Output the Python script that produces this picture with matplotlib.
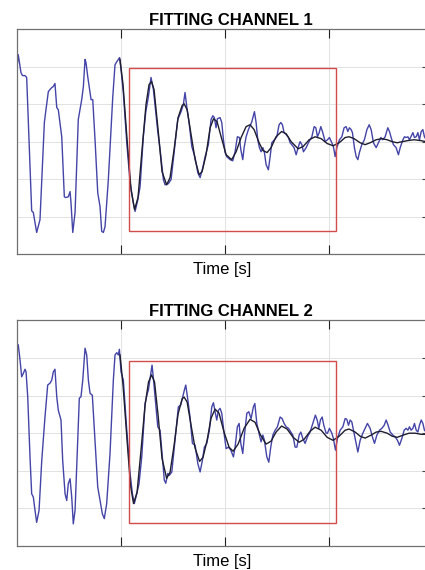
import matplotlib
matplotlib.use('Agg')
import matplotlib.pyplot as plt
from matplotlib.patches import Rectangle

plt.rcParams['font.family'] = ['Liberation Sans', 'DejaVu Sans']

# channel 1: measured signal
t1 = [0.000, 0.012, 0.038, 0.053, 0.077, 0.093, 0.141, 0.157, 0.189, 0.221,
      0.263, 0.276, 0.301, 0.317, 0.334, 0.349, 0.365, 0.382, 0.397, 0.430,
      0.455, 0.468, 0.493, 0.510, 0.519, 0.536, 0.558, 0.589, 0.622, 0.638,
      0.654, 0.663, 0.680, 0.712, 0.728, 0.750, 0.776, 0.798, 0.814, 0.830,
      0.846, 0.878, 0.920, 0.942, 0.959, 0.974, 0.986, 1.000, 1.022, 1.055,
      1.087, 1.118, 1.135, 1.161, 1.183, 1.214, 1.238, 1.263, 1.288, 1.311,
      1.334, 1.353, 1.375, 1.407, 1.423, 1.455, 1.481, 1.513, 1.545, 1.577,
      1.599, 1.615, 1.632, 1.654, 1.680, 1.712, 1.738, 1.760, 1.786, 1.808,
      1.839, 1.865, 1.882, 1.897, 1.913, 1.926, 1.952, 1.968, 1.984, 2.000,
      2.016, 2.048, 2.074, 2.096, 2.118, 2.138, 2.151, 2.170, 2.183, 2.202,
      2.224, 2.257, 2.282, 2.298, 2.314, 2.330, 2.346, 2.363, 2.378, 2.394,
      2.416, 2.433, 2.449, 2.474, 2.497, 2.519, 2.536, 2.551, 2.567, 2.587,
      2.609, 2.625, 2.641, 2.663, 2.683, 2.705, 2.721, 2.738, 2.753, 2.779,
      2.801, 2.834, 2.856, 2.872, 2.888, 2.904, 2.920, 2.939, 2.962, 2.984,
      3.003, 3.026, 3.041, 3.058, 3.074, 3.099, 3.122, 3.144, 3.163, 3.180,
      3.195, 3.212, 3.224, 3.243, 3.260, 3.276, 3.291, 3.314, 3.339, 3.363,
      3.385, 3.404, 3.426, 3.452, 3.474, 3.497, 3.516, 3.538, 3.564, 3.580,
      3.596, 3.618, 3.644, 3.666, 3.683, 3.709, 3.724, 3.740, 3.757, 3.772,
      3.786, 3.805, 3.820, 3.837, 3.853, 3.868, 3.885, 3.901, 3.916, 3.933,
      3.971, 4.000]
sig1 = [1.97, 2.32, 1.84, 1.76, 1.76, 1.71, -1.84, -1.89, -2.42, -2.08,
        0.51, 0.80, 1.33, 1.39, 1.44, 1.47, 1.55, 0.91, 0.85, 0.13,
        -1.47, -1.49, -1.47, -1.33, -1.63, -2.42, -1.89, 0.59, 1.12, 1.47,
        2.19, 2.11, 1.73, 1.12, 1.12, 0.05, -1.36, -1.73, -2.39, -2.42,
        -2.27, -1.01, 1.17, 2.05, 2.13, 2.19, 2.24, 1.92, 1.31, -0.03,
        -1.09, -1.63, -1.86, -1.55, -1.20, 0.13, 0.80, 1.20, 1.71, 1.39,
        0.77, 0.27, -0.21, -1.01, -1.15, -1.12, -1.01, -0.21, 0.59, 0.80,
        0.99, 1.31, 0.93, 0.51, -0.13, -0.43, -0.83, -0.96, -0.69, -0.40,
        -0.08, 0.59, 0.69, 0.64, 0.37, 0.61, 0.64, 0.51, 0.05, -0.29,
        -0.40, -0.48, -0.51, -0.27, 0.13, 0.11, -0.21, -0.48, -0.16, 0.13,
        0.32, 0.53, 0.80, 0.51, 0.05, -0.16, -0.27, -0.16, -0.29, -0.61,
        -0.75, -0.40, -0.03, 0.05, 0.13, 0.45, 0.51, 0.45, 0.24, 0.19,
        0.11, -0.03, -0.08, -0.16, -0.35, -0.13, 0.00, -0.08, -0.27, -0.16,
        -0.03, 0.13, 0.40, 0.37, 0.13, 0.24, 0.40, 0.24, 0.00, 0.05,
        0.11, -0.03, -0.13, -0.40, -0.16, 0.05, 0.13, 0.37, 0.40, 0.27,
        0.37, 0.32, 0.24, -0.16, -0.40, -0.48, -0.29, -0.08, 0.05, 0.32,
        0.45, 0.32, -0.03, -0.16, -0.03, 0.11, 0.05, 0.13, 0.37, 0.27,
        0.11, -0.08, -0.16, -0.35, -0.16, 0.05, 0.13, 0.11, 0.13, 0.05,
        0.13, 0.24, 0.11, 0.13, 0.24, 0.05, 0.27, 0.32, 0.13, 0.05,
        0.11, 0.05]

# channel 1: fitted curve
fit_t1 = [0.990, 1.019, 1.058, 1.096, 1.130, 1.163, 1.202, 1.240, 1.269, 1.293,
          1.317, 1.356, 1.394, 1.438, 1.471, 1.510, 1.548, 1.587, 1.606, 1.635,
          1.673, 1.712, 1.750, 1.779, 1.817, 1.856, 1.889, 1.923, 1.962, 2.010,
          2.063, 2.106, 2.154, 2.202, 2.240, 2.279, 2.327, 2.365, 2.404, 2.442,
          2.490, 2.543, 2.587, 2.635, 2.702, 2.750, 2.808, 2.865, 2.923, 2.981,
          3.038, 3.096, 3.154, 3.192, 3.240, 3.298, 3.346, 3.394, 3.452, 3.505,
          3.558, 3.606, 3.654, 3.702, 3.760, 3.817, 3.875, 3.933, 4.000]
fit1 = [2.19, 1.52, 0.05, -1.28, -1.81, -1.49, -0.21, 0.99, 1.52, 1.60,
        1.39, 0.32, -0.80, -1.15, -0.96, -0.21, 0.64, 0.96, 1.01, 0.85,
        0.19, -0.48, -0.88, -0.80, -0.35, 0.37, 0.61, 0.53, 0.13, -0.35,
        -0.48, -0.27, 0.11, 0.40, 0.45, 0.32, -0.03, -0.24, -0.29, -0.16,
        0.13, 0.27, 0.21, 0.00, -0.19, -0.13, 0.05, 0.13, 0.08, -0.05,
        -0.11, -0.03, 0.11, 0.13, 0.08, -0.03, -0.08, -0.03, 0.05, 0.08,
        0.05, 0.00, -0.03, 0.00, 0.03, 0.05, 0.03, 0.00, 0.00]

# channel 2: measured signal
t2 = [0.000, 0.012, 0.029, 0.045, 0.061, 0.077, 0.087, 0.103, 0.125, 0.141,
      0.157, 0.173, 0.189, 0.212, 0.238, 0.269, 0.295, 0.317, 0.334, 0.349,
      0.365, 0.382, 0.397, 0.423, 0.439, 0.462, 0.478, 0.493, 0.510, 0.526,
      0.541, 0.558, 0.584, 0.599, 0.615, 0.632, 0.654, 0.670, 0.686, 0.702,
      0.724, 0.750, 0.776, 0.798, 0.820, 0.839, 0.862, 0.894, 0.926, 0.942,
      0.959, 0.974, 0.984, 1.000, 1.022, 1.055, 1.087, 1.109, 1.128, 1.151,
      1.173, 1.199, 1.231, 1.253, 1.263, 1.282, 1.298, 1.311, 1.327, 1.353,
      1.375, 1.391, 1.416, 1.430, 1.449, 1.464, 1.488, 1.519, 1.551, 1.574,
      1.593, 1.609, 1.622, 1.638, 1.663, 1.686, 1.712, 1.738, 1.760, 1.782,
      1.801, 1.824, 1.849, 1.872, 1.888, 1.904, 1.920, 1.936, 1.952, 1.968,
      1.990, 2.010, 2.032, 2.055, 2.080, 2.096, 2.118, 2.135, 2.151, 2.170,
      2.186, 2.209, 2.228, 2.250, 2.272, 2.286, 2.305, 2.330, 2.346, 2.363,
      2.378, 2.401, 2.420, 2.439, 2.459, 2.481, 2.503, 2.529, 2.548, 2.567,
      2.587, 2.609, 2.632, 2.651, 2.673, 2.690, 2.712, 2.728, 2.747, 2.769,
      2.791, 2.817, 2.843, 2.868, 2.885, 2.901, 2.916, 2.933, 2.949, 2.971,
      2.984, 3.003, 3.026, 3.041, 3.061, 3.080, 3.106, 3.132, 3.154, 3.170,
      3.186, 3.202, 3.218, 3.234, 3.257, 3.276, 3.298, 3.324, 3.346, 3.368,
      3.394, 3.416, 3.436, 3.459, 3.484, 3.507, 3.529, 3.548, 3.567, 3.587,
      3.613, 3.635, 3.657, 3.676, 3.699, 3.721, 3.740, 3.757, 3.772, 3.788,
      3.805, 3.820, 3.837, 3.853, 3.868, 3.885, 3.901, 3.916, 3.933, 3.971,
      4.000]
sig2 = [2.37, 2.35, 1.95, 1.50, 1.59, 1.70, 1.63, 0.97, -0.63, -1.61,
        -1.70, -2.05, -2.37, -2.05, -0.72, 0.43, 1.28, 1.33, 1.41, 1.63,
        1.70, 0.97, 0.61, 0.35, -0.72, -1.61, -1.79, -1.34, -1.21, -1.70,
        -2.41, -2.05, -0.19, 0.93, 0.97, 1.41, 2.26, 2.08, 1.41, 1.06,
        1.01, -0.19, -1.43, -1.79, -2.14, -2.27, -1.87, -0.54, 1.41, 2.08,
        2.14, 2.08, 2.23, 1.63, 1.41, 0.08, -1.07, -1.61, -1.87, -1.61,
        -1.34, -0.63, 0.79, 1.06, 1.15, 1.50, 1.81, 1.46, 0.97, 0.17,
        0.08, -0.45, -1.25, -1.33, -1.07, -1.12, -1.03, -0.19, 0.70, 0.75,
        0.97, 1.15, 1.28, 0.97, 0.43, -0.27, -0.32, -0.81, -1.03, -0.72,
        -0.37, -0.27, 0.08, 0.70, 0.81, 0.57, 0.35, 0.61, 0.66, 0.53,
        0.00, -0.41, -0.37, -0.45, -0.63, -0.37, 0.17, 0.26, -0.27, -0.54,
        -0.05, 0.53, 0.57, 0.39, 0.70, 0.79, 0.26, -0.05, -0.23, -0.05,
        -0.19, -0.63, -0.77, -0.37, -0.05, 0.08, 0.17, 0.43, 0.39, 0.26,
        0.17, 0.13, 0.03, -0.05, -0.37, -0.37, -0.05, 0.03, -0.14, -0.27,
        -0.10, 0.03, 0.26, 0.48, 0.35, 0.13, 0.35, 0.43, 0.21, 0.00,
        0.00, 0.13, 0.00, -0.14, -0.45, -0.14, 0.08, 0.17, 0.39, 0.37,
        0.21, 0.35, 0.30, 0.08, -0.23, -0.50, -0.19, 0.00, 0.13, 0.26,
        0.13, -0.10, -0.27, -0.05, 0.08, 0.13, 0.21, 0.35, 0.21, 0.03,
        -0.05, -0.10, -0.19, -0.32, -0.14, 0.08, 0.13, 0.08, 0.17, 0.08,
        0.13, 0.26, 0.08, 0.03, 0.21, 0.35, 0.26, 0.08, 0.03, 0.13,
        0.03]

# channel 2: fitted curve
fit_t2 = [0.990, 1.019, 1.058, 1.091, 1.120, 1.154, 1.192, 1.231, 1.264, 1.293,
          1.322, 1.356, 1.394, 1.438, 1.471, 1.510, 1.548, 1.587, 1.606, 1.635,
          1.673, 1.712, 1.755, 1.788, 1.827, 1.865, 1.904, 1.942, 1.990, 2.038,
          2.077, 2.125, 2.183, 2.240, 2.288, 2.337, 2.394, 2.442, 2.490, 2.543,
          2.596, 2.654, 2.712, 2.760, 2.817, 2.865, 2.923, 2.981, 3.038, 3.096,
          3.154, 3.192, 3.250, 3.298, 3.346, 3.404, 3.452, 3.500, 3.558, 3.606,
          3.654, 3.712, 3.769, 3.827, 3.885, 3.942, 4.000]
fit2 = [2.08, 1.28, -0.19, -1.39, -1.87, -1.57, -0.45, 0.75, 1.36, 1.55,
        1.36, 0.48, -0.67, -1.20, -1.04, -0.32, 0.51, 0.91, 0.96, 0.83,
        0.21, -0.40, -0.75, -0.64, -0.19, 0.40, 0.64, 0.53, 0.03, -0.37,
        -0.48, -0.29, 0.13, 0.37, 0.29, -0.03, -0.29, -0.21, 0.03, 0.19,
        0.11, -0.11, -0.24, -0.16, 0.05, 0.16, 0.08, -0.11, -0.19, -0.08,
        0.08, 0.11, 0.03, -0.08, -0.13, -0.05, 0.03, 0.05, 0.00, -0.08,
        -0.11, -0.05, 0.00, 0.00, -0.03, -0.03, -0.03]

# fitting window (time range, amplitude range)
win_t = [1.08, 3.07]
win_y1 = [-2.37, 1.95]
win_y2 = [-2.39, 1.93]

titles = ['FITTING CHANNEL 1', 'FITTING CHANNEL 2']
panels = [(t1, sig1, fit_t1, fit1, win_y1), (t2, sig2, fit_t2, fit2, win_y2)]
# axes rectangles in figure fractions
boxes = [[0.040, 0.554, 0.967, 0.395], [0.040, 0.042, 0.967, 0.396]]

fig = plt.figure(figsize=(4.25, 5.7), dpi=100)

for i in range(2):
    t, sig, ft, fy, wy = panels[i]
    ax = fig.add_axes(boxes[i])

    ax.plot(t, sig, color='#4444a8', linewidth=1.0, zorder=2)
    ax.plot(ft, fy, color='#1e1e30', linewidth=1.0, zorder=3)
    ax.add_patch(Rectangle((win_t[0], wy[0]), win_t[1] - win_t[0], wy[1] - wy[0],
                           fill=False, edgecolor='#d24c4c', linewidth=1.0, zorder=4))

    ax.set_xlim(0, 3.95)
    ax.set_ylim(-3, 3)
    ax.set_xticks([1, 2, 3])
    ax.set_yticks([-2, -1, 0, 1, 2])
    ax.set_xticklabels([])
    ax.set_yticklabels([])
    ax.grid(True, color='#e2e2e2', linewidth=0.7, zorder=0)
    ax.set_axisbelow(True)
    ax.tick_params(axis='x', direction='in', length=6.5, width=0.8, color='#222222',
                   top=True, bottom=True)
    ax.tick_params(axis='y', direction='in', length=4, width=0.8, color='#444444',
                   left=False, right=True)
    for s in ax.spines.values():
        s.set_color('#707070')
        s.set_linewidth(0.9)

    ax.set_title(titles[i], fontsize=12, fontweight='bold', pad=3, x=0.52)
    ax.set_xlabel('Time [s]', fontsize=12, labelpad=2)

fig.savefig('out.png', dpi=100)
